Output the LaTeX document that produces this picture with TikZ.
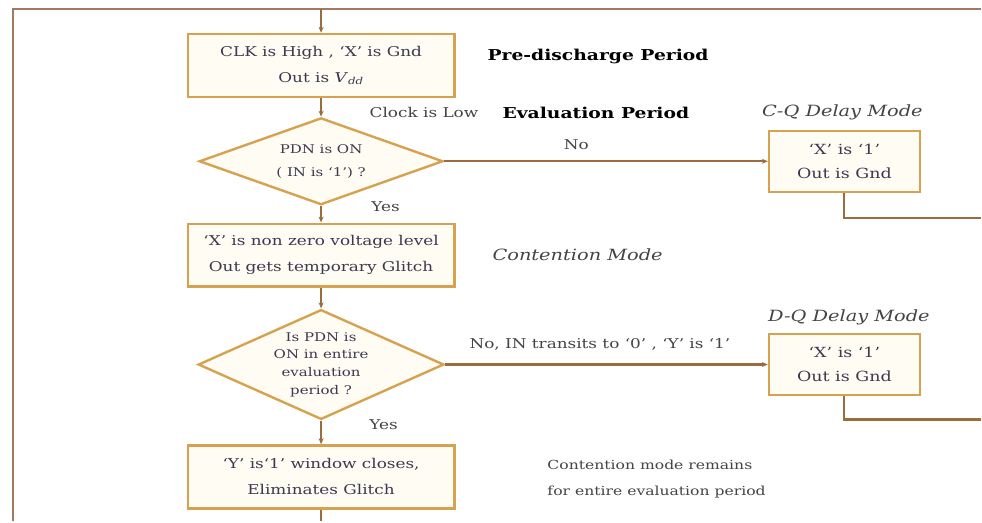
\documentclass[tikz,border=0pt]{standalone}
\usepackage{fontspec}
\setmainfont[FakeStretch=1.25]{DejaVu Serif}
\usetikzlibrary{shapes.geometric,arrows.meta}
\definecolor{lineC}{HTML}{9C6B3E}
\definecolor{loopC}{HTML}{A07A62}
\definecolor{boxC}{HTML}{D6A250}
\definecolor{fillC}{HTML}{FFFCF4}
\definecolor{txtC}{HTML}{3A3A50}
\definecolor{labC}{HTML}{444444}
\begin{document}
\begin{tikzpicture}[x=1pt,y=-1pt,
  procbox/.style={draw=boxC, line width=2.4pt, fill=fillC, text=txtC, align=center,
    font=\fontsize{13.5}{26}\selectfont, inner sep=0pt, minimum width=267pt, minimum height=63pt},
  sidebox/.style={procbox, font=\fontsize{14}{24}\selectfont, minimum width=151pt, minimum height=61pt},
  decbox/.style={draw=boxC, line width=2.4pt, fill=fillC, shape=diamond, inner sep=0pt, aspect=2.8},
  dectext/.style={text=txtC, align=center, inner sep=0pt},
  flow/.style={draw=lineC, line width=2.2pt, -{Stealth[length=6pt,width=5pt]}},
  plain/.style={draw=lineC, line width=2.2pt},
  loopline/.style={draw=loopC, line width=2.6pt},
  lab/.style={text=labC, font=\fontsize{13.5}{16}\selectfont, inner sep=0pt},
  title/.style={text=black, font=\fontsize{15}{18}\selectfont\bfseries, inner sep=0pt},
  mode/.style={text=labC, font=\fontsize{15.5}{18}\selectfont\itshape, inner sep=0pt}
]
\fill[white] (0,0) rectangle (982,522);
% outer loop ends
\coordinate (tl) at (13,9);
\coordinate (tr) at (982,9);
\coordinate (bl) at (13,522);
\coordinate (topin) at (321.5,9);
\coordinate (botout) at (321.5,522);
\coordinate (cqturn) at (848,218);
\coordinate (cqend) at (982,218);
\coordinate (dqturn) at (848,420);
\coordinate (dqend) at (982,420);

\node[procbox] (b1) at (321.5,65.5) {CLK is High , `X' is Gnd\\Out is \textit{V}\textsubscript{\textit{dd}}};
\node[decbox, minimum width=244pt, minimum height=87pt] (d1) at (321.5,161.5) {};
\node[dectext, font=\fontsize{12}{23}\selectfont] (d1t) at (d1.center) {PDN is ON\\( IN is `1') ?};
\node[procbox] (b2) at (321.5,255.5) {`X' is non zero voltage level\\Out gets  temporary Glitch};
\node[decbox, minimum width=246pt, minimum height=110pt] (d2) at (321.5,365) {};
\node[dectext, font=\fontsize{12}{17.7}\selectfont] (d2t) at (d2.center) {Is PDN is\\ON in entire\\evaluation\\period ?};
\node[procbox] (b3) at (321.5,477.5) {`Y' is`1'  window closes,\\Eliminates Glitch};
\node[sidebox] (cq) at (845.5,161.5) {`X' is `1'\\Out is Gnd};
\node[sidebox] (dq) at (845.5,365) {`X' is `1'\\Out is Gnd};

% labels
\node[title, anchor=west] (pre) at (488,57) {Pre-discharge Period};
\node[title, anchor=west] (eval) at (503,113) {Evaluation Period};
\node[lab, anchor=west] (clk) at (370,113) {Clock is Low};
\node[mode, anchor=west] (cqm) at (763,112) {C-Q Delay Mode};
\node[mode, anchor=west] (dqm) at (769,318) {D-Q Delay Mode};
\node[mode, anchor=west] (cm) at (493,255) {Contention Mode};
\node[lab] (no1) at (577,145) {No};
\node[lab, anchor=west] (no2) at (470,345) {No,  IN transits to `0' , `Y' is `1'};
\node[lab] (yes1) at (386,207) {Yes};
\node[lab] (yes2) at (384,425) {Yes};
\node[lab, anchor=west, align=left, font=\fontsize{12.5}{26}\selectfont] (rem) at (548,480) {Contention mode remains\\for entire evaluation period};

% connectors
\draw[loopline] (bl) -- (tl) -- (tr);
\draw[flow] (topin) -- (b1.north);
\draw[flow] (b1.south) -- (d1.north);
\draw[flow] (d1.south) -- (b2.north);
\draw[flow] (b2.south) -- (d2.north);
\draw[flow] (d2.south) -- (b3.north);
\draw[plain] (b3.south) -- (botout);
\draw[flow] (d1.east) -- (cq.west);
\draw[flow] (d2.east) -- (dq.west);
\draw[plain] (cq.south) -- (cq.south |- cqturn) -- (cqend);
\draw[plain] (dq.south) -- (dq.south |- dqturn) -- (dqend);
\end{tikzpicture}
\end{document}
